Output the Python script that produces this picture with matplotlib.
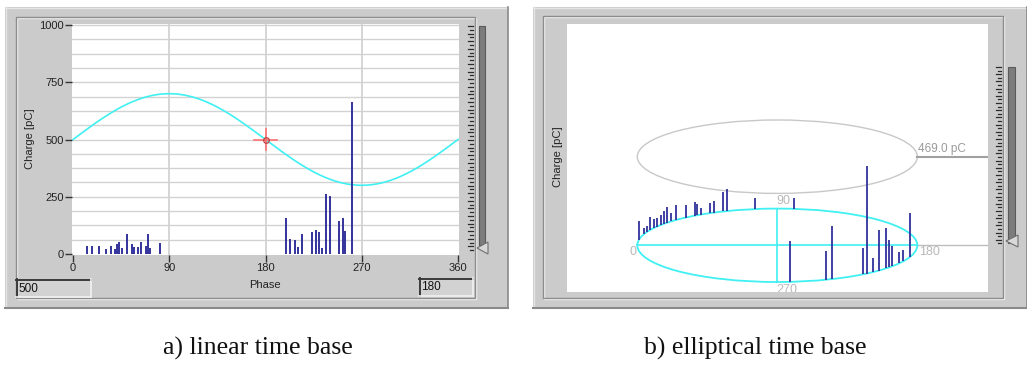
import numpy as np
import matplotlib
matplotlib.use("Agg")
import matplotlib.pyplot as plt
from matplotlib.patches import Rectangle, Ellipse, Polygon

# ---------------- data ----------------
# a) linear time base : phase (deg) and charge (pC) of the discharge pulses
phase_lin = [13.1, 18.1, 24.6, 31.2, 35.8, 39.6, 41.5, 43.3, 46.1, 50.8, 55.5, 57.4,
             61.1, 63.3, 67.9, 69.8, 71.7, 81.0,
             199.2, 203.2, 207.9, 210.7, 214.5, 223.8, 227.5, 230.3, 233.1, 236.9,
             240.6, 248.4, 252.2, 254.0, 260.6]
charge_lin = [35, 35, 35, 22, 35, 22, 42, 51, 26, 86, 42, 32,
              31, 51, 35, 86, 26, 47,
              156, 64, 61, 29, 86, 96, 105, 96, 25, 262,
              253, 144, 156, 100, 662]
x_ticks = [0, 90, 180, 270, 360]
y_ticks = [0, 250, 500, 750, 1000]
sine_offset = 500      # pC, reference sine of the linear time base
sine_amplitude = 200   # pC
cursor_phase = 180
cursor_charge = 500

# b) elliptical time base
phase_ell = [8.1, 17.4, 21.1, 24.6, 28.3, 30.8, 33.8, 36.0, 38.2, 40.6, 43.8, 49.1,
             53.8, 54.8, 56.8, 61.1, 63.1, 67.2, 68.8, 81.0, 96.8,
             264.8, 249.8, 247.1, 232.3, 230.3, 226.9, 223.4, 219.1, 217.1, 214.8,
             209.4, 205.8, 199.0]
charge_ell = [100, 35, 34, 67, 49, 47, 52, 65, 81, 45, 79, 66,
              71, 60, 33, 52, 61, 103, 117, 57, 56,
              216, 152, 283, 139, 569, 73, 216, 212, 147, 107,
              60, 60, 232]
level_pC = 469.0
ell_labels = ["0", "90", "180", "270"]

# ---------------- figure ----------------
W, H = 1027, 366
fig = plt.figure(figsize=(W / 100, H / 100), dpi=100)
fig.patch.set_facecolor("white")

bg = fig.add_axes([0, 0, 1, 1])
bg.set_xlim(0, W)
bg.set_ylim(H, 0)
bg.axis("off")


def ax_px(x0, y0, x1, y1):
    return fig.add_axes([x0 / W, 1 - y1 / H, (x1 - x0) / W, (y1 - y0) / H])


GRAY = "#cbcbcb"
SANS = ["Liberation Sans", "DejaVu Sans"]
BAR = "#32329c"
CYAN = "#40f0f2"


def panel(x0, y0, x1, y1, ix0, iy0, ix1, iy1):
    bg.add_patch(Rectangle((x0, y0), x1 - x0, y1 - y0, fc=GRAY, ec="none", zorder=0))
    bg.plot([x0, x1], [y0 + 0.5, y0 + 0.5], color="#e4e4e4", lw=1, zorder=1)
    bg.plot([x0 + 0.5, x0 + 0.5], [y0, y1], color="#e4e4e4", lw=1, zorder=1)
    bg.plot([x1 - 0.5, x1 - 0.5], [y0, y1], color="#8a8a8a", lw=1.2, zorder=1)
    bg.plot([x0, x1], [y1 - 0.5, y1 - 0.5], color="#8a8a8a", lw=1.5, zorder=1)
    bg.add_patch(Rectangle((ix0 + 1, iy0 + 1), ix1 - ix0, iy1 - iy0, fc="none",
                           ec="#f4f4f4", lw=1, zorder=1))
    bg.add_patch(Rectangle((ix0, iy0), ix1 - ix0, iy1 - iy0, fc="none",
                           ec="#8c8c8c", lw=1, zorder=1))


def slider(xt, y0, y1, step, bx0, bx1, by1, tri_y):
    ys = np.arange(y0, y1, step)
    for i, y in enumerate(ys):
        ln = 5 if i % 2 == 0 else 3
        bg.plot([xt - ln, xt], [y, y], color="#2c2c2c", lw=0.9, zorder=2)
    bg.add_patch(Rectangle((bx0, y0), bx1 - bx0, by1 - y0, fc="#7c7c7c",
                           ec="#5a5a5a", lw=0.8, zorder=2))
    bg.add_patch(Polygon([[bx0 - 2, tri_y], [bx1 + 3, tri_y - 6], [bx1 + 3, tri_y + 6]],
                         closed=True, fc="#d8d8d8", ec="#707070", lw=0.8, zorder=3))


# ---------- left panel ----------
panel(5, 7, 508, 308, 15.5, 16.5, 474.5, 297.5)
slider(473, 26, 254, 3.8, 479, 485, 245, 248)

ax1 = ax_px(72, 24, 459, 255)
ax1.set_facecolor("white")
ax1.set_xlim(-0.935, 360.935)
ax1.set_ylim(-4.37, 1004.37)
for v in np.arange(62.5, 1000.1, 62.5):
    ax1.axhline(v, color="#d2d2d2", lw=1, zorder=1)
for v in x_ticks[1:-1]:
    ax1.axvline(v, color="#d2d2d2", lw=1.3, zorder=1)
ph = np.linspace(0, 360, 721)
ax1.plot(ph, sine_offset + sine_amplitude * np.sin(np.radians(ph)),
         color=CYAN, lw=1.2, zorder=3)
ax1.vlines(phase_lin, 0, charge_lin, color=BAR, lw=1.4, zorder=4)
ax1.plot([cursor_phase - 10.3, cursor_phase + 10.3], [cursor_charge] * 2,
         color="#ff7070", lw=1.2, zorder=5)
ax1.plot([cursor_phase] * 2, [cursor_charge - 48, cursor_charge + 48],
         color="#ff7070", lw=1.2, zorder=5)
ax1.plot([cursor_phase], [cursor_charge], marker="o", ms=4, mfc="none",
         mec="#c04040", mew=0.9, zorder=6)
for s in ax1.spines.values():
    s.set_visible(False)
ax1.set_xticks(x_ticks)
ax1.set_yticks(y_ticks)
ax1.tick_params(direction="out", length=5, width=1, color="#333333",
                labelsize=8, pad=1, labelcolor="#222222")
for lab in ax1.get_xticklabels() + ax1.get_yticklabels():
    lab.set_family(SANS)

bg.text(265, 285, "Phase", family=SANS, fontsize=8, ha="center", va="center",
        color="#222222")
bg.text(30, 139, "Charge [pC]", family=SANS, fontsize=8, ha="center", va="center",
        rotation=90, color="#222222")


def textbox(x0, y0, x1, y1, s):
    bg.add_patch(Rectangle((x0, y0), x1 - x0, y1 - y0, fc="#d2d2d2", ec="none", zorder=2))
    bg.plot([x0, x1], [y0 + 0.5, y0 + 0.5], color="#3a3a3a", lw=1.4, zorder=3)
    bg.plot([x0 + 0.5, x0 + 0.5], [y0, y1], color="#3a3a3a", lw=1.4, zorder=3)
    bg.plot([x0, x1], [y1 - 0.5, y1 - 0.5], color="#f2f2f2", lw=1.2, zorder=3)
    bg.plot([x1 - 0.5, x1 - 0.5], [y0, y1], color="#f2f2f2", lw=1.2, zorder=3)
    bg.text(x0 + 2.5, (y0 + y1) / 2 + 0.5, s, family=SANS, fontsize=8.5,
            ha="left", va="center", color="#111111", zorder=4)


textbox(16, 279, 91, 297, "500")
textbox(419, 278, 473, 296, "180")

# ---------- right panel ----------
panel(533, 7, 1027, 308, 542.5, 15.5, 1003, 298)
slider(1001, 67, 245, 3.6, 1008, 1015, 243, 241)

CX, CY = 777.3, 245.3
A, B = 140.0, 36.7
K = 88.6 / 469.0
ax2 = ax_px(567, 24, 988, 292)
ax2.set_facecolor("white")
ax2.set_xlim(567 - CX, 988 - CX)
ax2.set_ylim(CY - 292, CY - 24)
ax2.axis("off")
ax2.add_patch(Rectangle((567 - CX, CY - 292), 421, 268, transform=ax2.transData,
                        fc="white", ec="none", zorder=0))
ylev = K * level_pC
ax2.add_patch(Ellipse((0, ylev), 2 * A, 2 * B, fill=False, ec="#c8c8c8", lw=1, zorder=2))
ax2.plot([A, 988 - CX], [ylev, ylev], color="#a0a0a0", lw=1.5, zorder=2)
ax2.text(A + 1, ylev + 2, f"{level_pC:.1f} pC", family=SANS, fontsize=8.5,
         color="#9a9a9a", ha="left", va="bottom")
ax2.add_patch(Ellipse((0, 0), 2 * A, 2 * B, fill=False, ec=CYAN, lw=1.3, zorder=3))
ax2.plot([-A, A], [0, 0], color=CYAN, lw=1.2, zorder=3)
ax2.plot([A, 988 - CX], [0, 0], color="#bdbdbd", lw=1, zorder=2)
ax2.plot([0, 0], [-B, B], color=CYAN, lw=1.2, zorder=3)
pr = np.radians(phase_ell)
bx = -A * np.cos(pr)
by = B * np.sin(pr)
ax2.vlines(bx, by, by + K * np.array(charge_ell), color=BAR, lw=1.3, zorder=4)
lab_kw = dict(family=SANS, fontsize=9, color="#b8b8b8", zorder=5)
ax2.text(-A - 1, -7, ell_labels[0], ha="right", va="center", **lab_kw)
ax2.text(6, B + 8, ell_labels[1], ha="center", va="center", **lab_kw)
ax2.text(A + 2, -7, ell_labels[2], ha="left", va="center", **lab_kw)
t = ax2.text(10, -B - 8, ell_labels[3], ha="center", va="center", **lab_kw)
t.set_clip_on(True)

bg.text(558, 157, "Charge [pC]", family=SANS, fontsize=8, ha="center", va="center",
        rotation=90, color="#222222")

# ---------- captions ----------
SERIF = ["Liberation Serif", "DejaVu Serif"]
bg.text(258, 355, "a) linear time base", family=SERIF, fontsize=18.5,
        ha="center", va="baseline", color="#111111")
bg.text(755, 355, "b) elliptical time base", family=SERIF, fontsize=18.5,
        ha="center", va="baseline", color="#111111")

fig.savefig("out.png", dpi=100)
